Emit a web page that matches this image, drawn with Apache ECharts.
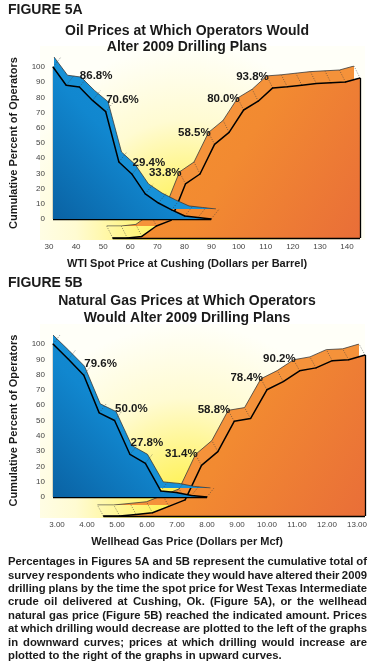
<!DOCTYPE html>
<html>
<head>
<meta charset="utf-8">
<script src="https://cdn.jsdelivr.net/npm/echarts@6/dist/echarts.min.js"></script>
<style>
  html, body { margin: 0; padding: 0; background: #fff; }
  #chart { width: 375px; height: 667px; }
</style>
</head>
<body>
<div id="chart"></div>
<script>
// Figure 5A - oil, dollars per barrel
const oilAxis = { min: 30, max: 140, interval: 10 };
const oilBluePrices = [30, 35, 40, 45, 50, 55, 60, 65, 70, 75, 80, 85, 90];
const oilBlueValues = [100, 88, 86.8, 78, 70.6, 37.5, 29.4, 16.5, 10.5, 6, 2, 1, 0];
const oilBlueLabeled = [40, 50, 60];
const oilOrangePrices = [55, 60, 65, 70, 75, 80, 85, 90, 95, 100, 105, 110, 115, 120, 125, 130, 135, 140];
const oilOrangeValues = [0, 0, 1, 7.5, 11, 33.8, 40, 58.5, 66, 80, 85.5, 93.8, 94.5, 95.5, 96.5, 97, 97.5, 100];
const oilOrangeLabeled = [80, 90, 100, 110];

// Figure 5B - natural gas, dollars per Mcf
const gasAxis = { min: 3, max: 13, interval: 1 };
const gasBluePrices = [3, 3.5, 4, 4.5, 5, 5.5, 6, 6.5, 7, 7.5, 8];
const gasBlueValues = [100, 90, 79.6, 55, 50, 27.8, 22, 4, 3, 1, 0];
const gasBlueLabeled = [4, 5, 5.5];
const gasOrangePrices = [5, 5.5, 6, 6.5, 7, 7.5, 8, 8.5, 9, 9.5, 10, 10.5, 11, 11.5, 12, 12.5, 13];
const gasOrangeValues = [0, 0, 1, 2, 6, 10, 31.4, 40, 58.8, 60.5, 78.4, 83.5, 90.2, 92, 96.5, 97, 100];
const gasOrangeLabeled = [8, 9, 10, 11];

const pctAxis = { min: 0, max: 100, interval: 10 };

const noteLines = [
  'Percentages in Figures 5A and 5B represent the cumulative total of',
  'survey respondents who indicate they would have altered their 2009',
  'drilling plans by the time the spot price for West Texas Intermediate',
  'crude oil delivered at Cushing, Ok. (Figure 5A), or the wellhead',
  'natural gas price (Figure 5B) reached the indicated amount. Prices',
  'at which drilling would decrease are plotted to the left of the graphs',
  'in downward curves; prices at which drilling would increase are',
  'plotted to the right of the graphs in upward curves.'
];

const FONT = '"Liberation Sans", Arial, sans-serif';
const BLUE = '#1791d7';
const ORANGE = '#f5923a';

const chart = echarts.init(document.getElementById('chart'));

// front face and raised back edge of each "3D" ribbon
const grids = [
  { left: 46, top: 67, width: 297, height: 152 },   // 0 oil blue
  { left: 54, top: 57, width: 297, height: 152 },   // 1 oil blue back
  { left: 40, top: 78, width: 320, height: 160 },   // 2 oil orange
  { left: 34, top: 66, width: 320, height: 160 },   // 3 oil orange back
  { left: 49, top: 230, width: 298, height: 10 },   // 4 oil tick labels
  { left: 46, top: 344, width: 315, height: 153 },  // 5 gas blue
  { left: 53, top: 335, width: 315, height: 153 },  // 6 gas blue back
  { left: 38, top: 355, width: 327, height: 161 },  // 7 gas orange
  { left: 32, top: 344, width: 327, height: 161 },  // 8 gas orange back
  { left: 57, top: 508, width: 300, height: 10 }    // 9 gas tick labels
];

function xAx(gridIndex, range, labels, decimals) {
  return {
    type: 'value', gridIndex: gridIndex,
    min: range.min, max: range.max, interval: range.interval,
    show: !!labels,
    axisLine: { show: false }, axisTick: { show: false }, splitLine: { show: false },
    axisLabel: {
      show: !!labels, margin: 3, color: '#444', fontSize: 8, fontFamily: FONT,
      formatter: (v) => v.toFixed(decimals || 0)
    }
  };
}

function yAx(gridIndex, withLabels) {
  return {
    type: 'value', gridIndex: gridIndex,
    min: pctAxis.min, max: pctAxis.max, interval: pctAxis.interval,
    show: !!withLabels,
    name: withLabels ? 'Cumulative Percent of Operators' : '',
    nameLocation: 'middle', nameRotate: 90, nameGap: 34,
    nameTextStyle: { fontFamily: FONT, fontWeight: 'bold', fontSize: 11, color: '#1a1a1a' },
    axisLine: { show: false }, axisTick: { show: false }, splitLine: { show: false },
    axisLabel: { show: !!withLabels, margin: 8, color: '#444', fontSize: 8, fontFamily: FONT }
  };
}

function pairs(prices, values, labeled, side) {
  return prices.map((p, i) => {
    const item = { value: [p, values[i]] };
    if (labeled && labeled.indexOf(p) >= 0) {
      item.label = {
        show: true,
        position: side > 0 ? [1, -17] : [-36, -17],
        formatter: (d) => d.value[1].toFixed(1) + '%',
        fontFamily: FONT, fontWeight: 'bold', fontSize: 11.5, color: '#1a1a1a'
      };
    }
    return item;
  });
}

function backSeries(axisIndex, prices, values, color, z) {
  return {
    type: 'line', xAxisIndex: axisIndex, yAxisIndex: axisIndex, z: z,
    data: pairs(prices, values), symbol: 'none', silent: true,
    lineStyle: { color: '#3a3a3a', width: 0.8 },
    areaStyle: { color: color, opacity: 1 }
  };
}

// black outline of the front face: the vertical end and the base
function edges(prices, values, endIndex) {
  const p0 = prices[0], p1 = prices[prices.length - 1];
  return {
    silent: true, symbol: 'none', label: { show: false },
    lineStyle: { color: '#000', width: 1.3, type: 'solid' },
    data: [
      [{ coord: [p0, 0] }, { coord: [p1, 0] }],
      [{ coord: [prices[endIndex], 0] }, { coord: [prices[endIndex], values[endIndex]] }]
    ]
  };
}

function frontSeries(axisIndex, prices, values, labeled, side, fill, z) {
  return {
    type: 'line', xAxisIndex: axisIndex, yAxisIndex: axisIndex, z: z,
    data: pairs(prices, values, labeled, side),
    symbol: 'circle', symbolSize: 1, showAllSymbol: true, silent: true,
    itemStyle: { color: '#000' },
    lineStyle: { color: '#000', width: 1.5 },
    areaStyle: { color: fill, opacity: 1 },
    markLine: edges(prices, values, side > 0 ? 0 : prices.length - 1)
  };
}

// dotted depth lines joining each front vertex to the same vertex on the back edge
function depthSeries(front, back, prices, values, z) {
  const dx = grids[back].left - grids[front].left;
  const dy = grids[back].top - grids[front].top;
  return {
    type: 'custom', xAxisIndex: front, yAxisIndex: front, z: z, silent: true,
    data: prices.map((p, i) => [p, values[i]]),
    renderItem: (params, api) => {
      const pt = api.coord([api.value(0), api.value(1)]);
      return {
        type: 'line',
        shape: { x1: pt[0], y1: pt[1], x2: pt[0] + dx, y2: pt[1] + dy },
        style: { stroke: '#3a3a3a', lineWidth: 0.6, lineDash: [1, 1.5] }
      };
    }
  };
}

const blueFill = new echarts.graphic.LinearGradient(1, 0, 0, 1, [
  { offset: 0, color: '#1894da' }, { offset: 0.55, color: '#1187cf' }, { offset: 1, color: '#0a62a3' }
]);
const orangeFill = new echarts.graphic.LinearGradient(0, 0, 1, 1, [
  { offset: 0, color: '#f6932f' }, { offset: 0.5, color: '#f28a31' }, { offset: 1, color: '#e96e38' }
]);

function glow() {
  return new echarts.graphic.RadialGradient(0.45, 0.95, 0.95, [
    { offset: 0, color: '#fff03c' }, { offset: 0.3, color: '#fff585' },
    { offset: 0.6, color: '#fffbd2' }, { offset: 1, color: '#fffff8' }
  ]);
}

function text(x, y, str, size, align) {
  return {
    type: 'text', x: x, y: y, silent: true, z: 20,
    style: {
      text: str, fill: '#1a1a1a', font: 'bold ' + size + 'px ' + FONT,
      align: align || 'left', textAlign: align || 'left',
      verticalAlign: 'middle', textVerticalAlign: 'middle'
    }
  };
}

// justified note under the charts
const NOTE_SIZE = 11.3, NOTE_LEFT = 8, NOTE_WIDTH = 359, NOTE_TOP = 562, NOTE_STEP = 13.4;
const measure = document.createElement('canvas').getContext('2d');
measure.font = 'bold ' + NOTE_SIZE + 'px ' + FONT;
const noteWords = [];
noteLines.forEach((line, li) => {
  const words = line.split(' ');
  const widths = words.map((w) => measure.measureText(w).width);
  const total = widths.reduce((a, b) => a + b, 0);
  const last = li === noteLines.length - 1;
  const gap = last ? measure.measureText(' ').width : (NOTE_WIDTH - total) / (words.length - 1);
  let x = NOTE_LEFT;
  words.forEach((w, wi) => {
    noteWords.push(text(x, NOTE_TOP + li * NOTE_STEP, w, NOTE_SIZE));
    x += widths[wi] + gap;
  });
});

chart.setOption({
  animation: false,
  grid: grids,
  xAxis: [
    xAx(0, oilAxis), xAx(1, oilAxis), xAx(2, oilAxis), xAx(3, oilAxis), xAx(4, oilAxis, true, 0),
    xAx(5, gasAxis), xAx(6, gasAxis), xAx(7, gasAxis), xAx(8, gasAxis), xAx(9, gasAxis, true, 2)
  ],
  yAxis: [
    yAx(0, true), yAx(1), yAx(2), yAx(3), yAx(4),
    yAx(5, true), yAx(6), yAx(7), yAx(8), yAx(9)
  ],
  graphic: [
    { type: 'rect', z: -10, silent: true, shape: { x: 40, y: 46, width: 325, height: 194 }, style: { fill: glow() } },
    { type: 'rect', z: -10, silent: true, shape: { x: 40, y: 324, width: 325, height: 194 }, style: { fill: glow() } },
    text(8, 10, 'FIGURE 5A', 14),
    text(187, 31, 'Oil Prices at Which Operators Would', 14, 'center'),
    text(187, 47, 'Alter 2009 Drilling Plans', 14, 'center'),
    text(187, 264, 'WTI Spot Price at Cushing (Dollars per Barrel)', 11, 'center'),
    text(8, 283, 'FIGURE 5B', 14),
    text(187, 301, 'Natural Gas Prices at Which Operators', 14, 'center'),
    text(187, 318, 'Would Alter 2009 Drilling Plans', 14, 'center'),
    text(187, 542, 'Wellhead Gas Price (Dollars per Mcf)', 11, 'center')
  ].concat(noteWords),
  series: [
    backSeries(3, oilOrangePrices, oilOrangeValues, ORANGE, 2),
    frontSeries(2, oilOrangePrices, oilOrangeValues, oilOrangeLabeled, -1, orangeFill, 3),
    depthSeries(2, 3, oilOrangePrices, oilOrangeValues, 3),
    backSeries(1, oilBluePrices, oilBlueValues, BLUE, 4),
    frontSeries(0, oilBluePrices, oilBlueValues, oilBlueLabeled, 1, blueFill, 5),
    depthSeries(0, 1, oilBluePrices, oilBlueValues, 5),
    backSeries(8, gasOrangePrices, gasOrangeValues, ORANGE, 2),
    frontSeries(7, gasOrangePrices, gasOrangeValues, gasOrangeLabeled, -1, orangeFill, 3),
    depthSeries(7, 8, gasOrangePrices, gasOrangeValues, 3),
    backSeries(6, gasBluePrices, gasBlueValues, BLUE, 4),
    frontSeries(5, gasBluePrices, gasBlueValues, gasBlueLabeled, 1, blueFill, 5),
    depthSeries(5, 6, gasBluePrices, gasBlueValues, 5)
  ]
});
</script>
</body>
</html>
